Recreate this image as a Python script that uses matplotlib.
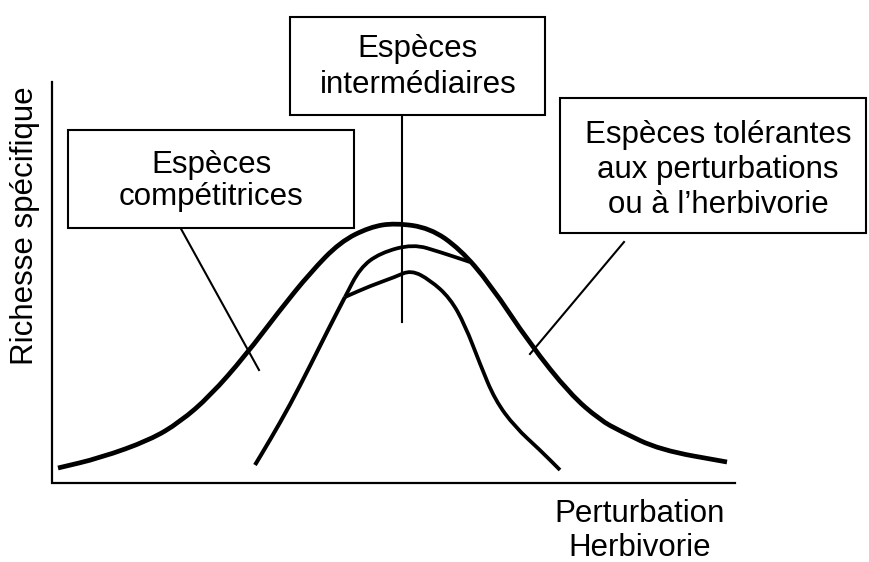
import numpy as np
import matplotlib.pyplot as plt
from matplotlib.patches import Rectangle, PathPatch
from matplotlib.path import Path

plt.rcParams['font.family'] = ['Liberation Sans', 'DejaVu Sans']

# curves (pixel coords, y downwards)
outerX = [58, 100, 150, 180, 210, 245, 280, 310, 340, 370, 395, 430, 460, 490, 530, 570, 600, 620, 660, 727]
outerY = [468, 458, 440, 422, 396, 356, 310, 273, 242, 227, 223, 228, 249, 284, 344, 394, 420, 431, 450, 462]

riseX = [255, 270, 290, 310, 330, 345]
riseY = [465, 440, 405, 366, 326, 297]

upperX = [345, 360, 380, 413, 440, 470]
upperY = [297, 268, 253, 244, 252, 262]

lowerX = [345, 370, 395, 411, 430, 450, 465, 480, 495, 515, 540, 560]
lowerY = [297, 286, 277, 270, 280, 298, 325, 364, 400, 427, 450, 470]

# boxes: (x0, y0, x1, y1) and their texts
boxes = [(68, 130, 354, 228), (290, 17, 545, 115), (560, 98, 866, 233)]
boxTexts = ["Espèces\ncompétitrices", "Espèces\nintermédiaires",
            "Espèces tolérantes\naux perturbations\nou à l\u2019herbivorie"]
boxCenters = [(211, 181), (418, 67), (718, 170)]
boxSpacing = [1.13, 1.24, 1.22]

# leader lines
leaders = [((180, 227), (259, 370)), ((402, 115), (402, 322)), ((624, 242), (530, 354))]


def smoothLine(ax, xs, ys, lw):
    # quadratic b-spline style path: read points act as control points
    pts = np.column_stack([xs, ys]).astype(float)
    verts = [pts[0], (pts[0] + pts[1]) / 2]
    codes = [Path.MOVETO, Path.LINETO]
    for i in range(1, len(pts) - 1):
        verts += [pts[i], (pts[i] + pts[i + 1]) / 2]
        codes += [Path.CURVE3, Path.CURVE3]
    verts.append(pts[-1])
    codes.append(Path.LINETO)
    ax.add_patch(PathPatch(Path(verts, codes), fill=False, edgecolor='black',
                           lw=lw, capstyle='butt', joinstyle='round'))


fig = plt.figure(figsize=(8.69, 5.62), dpi=100)
ax = fig.add_axes([0, 0, 1, 1])
ax.set_xlim(0, 869)
ax.set_ylim(562, 0)
ax.axis('off')

# axis lines
ax.plot([52, 52, 735], [82, 483, 483], color='black', lw=1.6, solid_joinstyle='miter')

smoothLine(ax, outerX, outerY, 3.4)
smoothLine(ax, riseX, riseY, 2.9)
smoothLine(ax, upperX, upperY, 2.7)
smoothLine(ax, lowerX, lowerY, 2.7)

for (p, q) in leaders:
    ax.plot([p[0], q[0]], [p[1], q[1]], color='black', lw=1.5)

for b, t, c, s in zip(boxes, boxTexts, boxCenters, boxSpacing):
    ax.add_patch(Rectangle((b[0], b[1]), b[2] - b[0], b[3] - b[1], fill=True,
                           facecolor='white', edgecolor='black', lw=1.5, zorder=3))
    ax.text(c[0], c[1], t, ha='center', va='center', fontsize=22.5,
            linespacing=s, zorder=4)

ax.text(25, 226, "Richesse spécifique", rotation=90, ha='center', va='center', fontsize=22.5)
ax.text(640, 531, "Perturbation\nHerbivorie", ha='center', va='center', fontsize=22.5,
        linespacing=1.2)

plt.savefig("out.png", dpi=100)
